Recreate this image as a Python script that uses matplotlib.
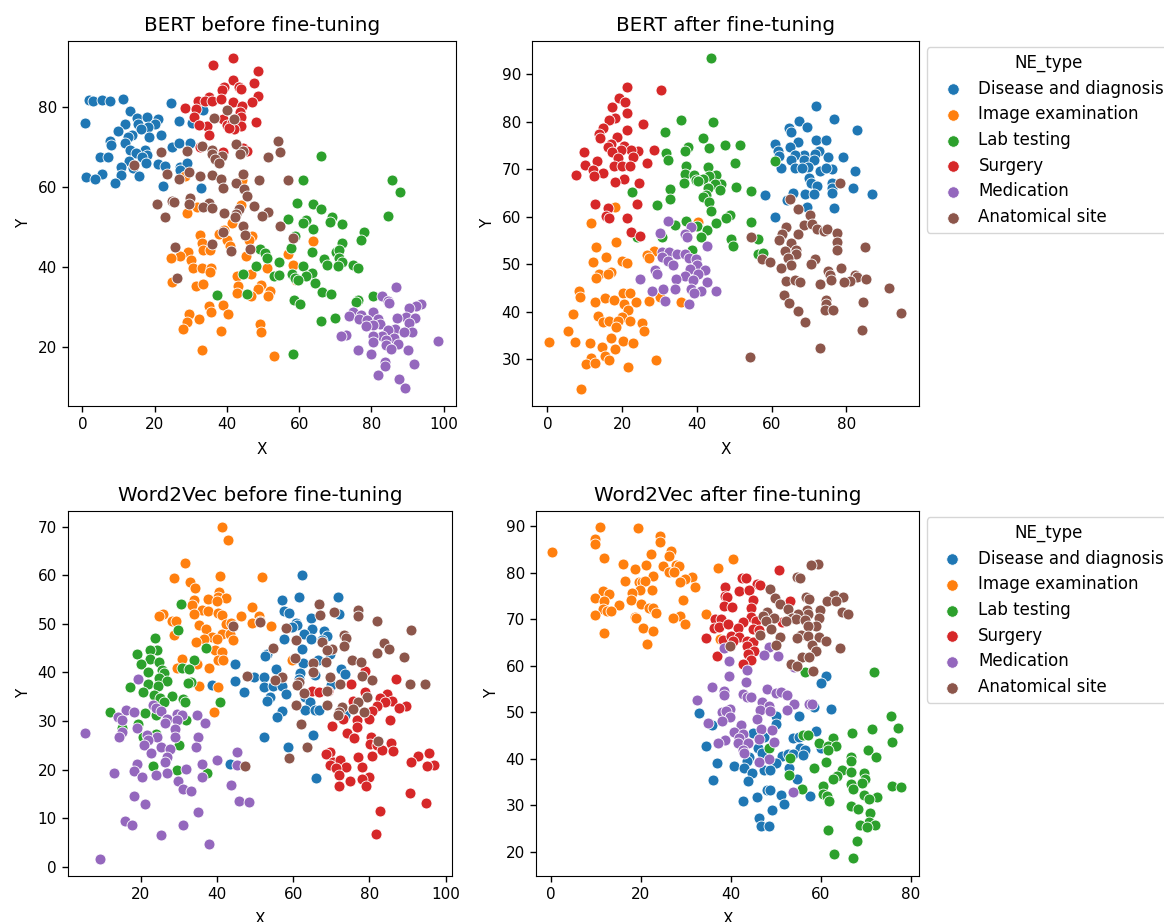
import matplotlib
matplotlib.use('Agg')
import matplotlib.pyplot as plt
import numpy as np

ne_types = ['Disease and diagnosis', 'Image examination', 'Lab testing', 'Surgery', 'Medication', 'Anatomical site']
colors = ['tab:blue', 'tab:orange', 'tab:green', 'tab:red', 'tab:purple', 'tab:brown']

# BERT before fine-tuning
bb_disease = [(0.6,76.2),(1.9,81.8),(3,81.7),(5.5,81.8),(7.6,81.5),(11.3,82),(13.1,79.2),(24.5,81),(26.6,76.7),(30.4,76),(33.3,79.3),(15.2,77.3),(18,77.7),(20.8,77.1),(20,75.8),(11.9,75.8),(15.5,75.8),(18.2,75),(16.1,74.5),(9.9,74),(13.6,73),(12.5,72.7),(18.4,72.7),(21.8,73),(7.6,71.5),(11.8,71),(8,70.5),(24.7,70.2),(26.6,71),(29.8,71.2),(17.3,69.3),(13.3,69.3),(14.8,68.7),(4.8,67.7),(7.1,67.7),(18,68.1),(16.4,67.7),(13,66.7),(17.6,66),(21,65.8),(22.9,65.3),(10.6,65),(13.9,64.8),(26.9,65),(28.9,66.2),(27,64.3),(5.3,63.3),(1.1,62.6),(3.5,62.1),(10.6,63.2),(15.7,62.8),(9,61),(22.4,60.4),(32.8,59.8)]
bb_image = [(28.4,62.8),(44.2,61.8),(28.9,53.6),(31.7,55.2),(44,55.6),(41.4,51),(39.3,49.3),(37.7,48.3),(32.4,48),(46.9,47.9),(40,46.8),(46.2,46.7),(33,46),(63.8,46.5),(33.3,44.3),(35.4,44.3),(40.9,45.2),(29.1,43.9),(26.9,42.8),(24.4,42.4),(30,41.7),(45.3,42.7),(57,43.2),(30.7,39.8),(33.2,39.7),(35.5,39.7),(51.1,39.9),(58.3,40.5),(35.2,38.9),(42.8,37.7),(46.7,38.3),(24.9,36.3),(31.4,35.3),(33.3,35.9),(43,35.2),(49.3,35.5),(59.2,36.7),(48.5,34.6),(52,34),(42.8,33.5),(46.7,32.7),(51.3,32.7),(34.9,30.4),(38.9,30.6),(35.6,28.9),(29.6,28.4),(40.3,28.3),(32.3,27.1),(28.9,26.2),(27.7,24.5),(38.4,24),(49.1,25.8),(49.3,23.8),(33.1,19.3),(53.1,17.7)]
bb_lab = [(65.9,67.8),(61,61.8),(85.6,61.8),(88,58.8),(59.3,56),(63.9,55.8),(65.9,54.6),(69,52.7),(56.9,52.1),(61.8,51.8),(61,51.2),(68.5,51.4),(71.9,50.9),(84.5,52.8),(63.8,49.6),(78,48.7),(58.9,47.9),(77,46.7),(71.9,46),(57.6,44.7),(63.6,43.9),(49.1,44.5),(50.4,43.5),(70.1,43.7),(71,44.3),(51.1,42.2),(66.9,42),(71,42.3),(54.5,41.4),(67.8,40.6),(71.8,41.3),(70.7,40.3),(48.1,40.4),(75,40.5),(76.4,39.8),(61,40.3),(63.6,38.5),(61.8,37.8),(57.9,38.2),(58.8,37.3),(53,37.9),(54.4,38.1),(44.4,38.3),(64.4,36),(59.7,36.7),(37.2,33.1),(45.6,33.3),(66.4,33.8),(68.9,33.2),(58.5,31.9),(60.1,30.7),(80.3,32.8),(76.4,31.7),(75.6,31.4),(69.8,27.4),(65.9,26.6),(58.4,18.4)]
bb_surgery = [(41.7,92.4),(36.1,90.5),(48.5,89),(41.7,86.8),(47.4,86),(39.1,85.2),(43.4,85.2),(38.6,84.3),(44,84.5),(48.5,82.8),(34.9,82.7),(31.9,81.7),(34,81.7),(35.8,81.7),(38.4,82),(41.7,81.3),(46.9,81.3),(28.5,79.8),(31.5,79.7),(44.2,80.3),(43.7,78.9),(31,77.7),(38.9,77),(43.9,77.7),(48.1,76.3),(40,75.6),(41.4,76),(34.4,75.3),(32.2,75.7),(43.9,75.3),(41.9,74.5),(34.9,73.2),(40.5,74.9),(32.6,70.2),(39,68.9),(44.4,69.8),(45.6,69.2)]
bb_medication = [(86.9,35.1),(82.9,32.7),(84.6,31.6),(84.9,31),(93.7,30.7),(92.3,30.4),(90.5,29.8),(75,28.9),(80.5,28.9),(73.8,27.8),(77.2,28.1),(89.5,27.5),(92,27.3),(87,27.2),(81.8,27),(76.6,27),(78.7,26.7),(90.5,26),(82.4,25.8),(80.3,25.6),(78.4,25.2),(86.6,24.5),(84.6,24.3),(91.1,23.9),(89,23.7),(72.9,23.1),(71.5,22.8),(83,22.8),(80.5,22.7),(86.3,22.3),(84,21.8),(98.3,21.6),(80.3,21.4),(87.4,20.8),(84,20.6),(85.4,19.5),(76.4,19.2),(90.2,19.2),(79.8,18.2),(83.8,16.2),(91.9,15.8),(83.8,15.2),(81.7,13),(87.7,12.1),(89.4,9.7)]
bb_anatomical = [(40,79.3),(41.9,77.2),(36.5,77.3),(54.1,71.6),(42.5,70.9),(33.2,70.3),(21.7,68.8),(28.9,69),(35.8,69.3),(44.4,69.2),(54.8,68.8),(35.9,68.3),(43.7,68.3),(38.6,67.8),(51.3,67.7),(36.8,67),(37.7,66.2),(14.4,65.7),(29.6,63.8),(23.3,63.3),(32.4,62.8),(35.8,63.2),(44.4,63.3),(26.6,62.1),(38.4,62),(49,61.8),(57,61.8),(42.5,61),(39,59.9),(44.8,59.5),(45.6,57.8),(29.8,57.4),(20.7,55.8),(24.7,56.6),(25.4,56.4),(29.5,55.8),(34.9,56),(33.3,55),(35.8,54.9),(47.4,55.4),(43.4,54.6),(42.6,53.3),(39.1,53.7),(51.3,53.8),(49.7,52.9),(22.9,52.7),(42.3,52.5),(54.8,50.4),(44.4,50.2),(38.9,48.7),(45.1,48.1),(58.3,47.3),(35.8,45.8),(25.6,45),(46.5,44.6),(41.2,44.1),(26.3,37.3)]

# BERT after fine-tuning
ba_disease = [(71.8,83.3),(76.7,80.5),(67.4,80.1),(69.4,79),(64.7,78.6),(65.3,77.8),(82.7,78.3),(67.1,75.8),(71.8,76.1),(74.5,76.1),(61,75.3),(64.9,74.8),(61.7,73.9),(68.7,73.1),(72.7,73.8),(71.7,73.2),(66.2,73.1),(62,72.8),(79.2,72.6),(75,72.5),(65.1,72),(68.7,72),(71.4,72),(66.2,70.3),(62.4,70.2),(69.6,70.4),(68,70.2),(76,70),(82.2,69.7),(72.9,69.6),(74.6,70.2),(69.9,68.2),(70.6,67.1),(72,66.5),(76,67.1),(81.8,66.1),(76,66),(86.7,64.9),(76,65.1),(65.7,65.1),(68.9,64.8),(71.4,64.9),(58.3,64.7),(64,63.5),(76.7,61.9),(69.4,62.1),(60.9,59.9)]
ba_image = [(18.1,62.1),(11.7,58.8),(40.4,59),(18.3,54.7),(12.9,53.6),(28.6,52.9),(26.7,51.9),(27.3,51.3),(15.7,51.6),(12.1,50.5),(19.9,50.7),(21.2,50.3),(13.9,47.9),(17.1,48.3),(16.3,47.9),(13,47.1),(8.5,44.4),(8.8,43.1),(15.5,43),(17.9,42.6),(12.7,42.1),(20.2,43.9),(22.1,44),(30.2,43.1),(27.3,42.3),(23.7,42.1),(20.6,41.6),(35.7,42.1),(21.5,40.5),(6.8,39.6),(13.5,39.2),(19.9,39),(14.8,37.9),(16.5,38),(19,38.1),(22.2,38),(25.4,37.7),(18.4,36.9),(5.4,35.9),(25.9,35.9),(16.9,34.6),(0.4,33.7),(7.5,33.7),(11.3,33.4),(20.2,33.8),(23,33.4),(14.7,32.6),(18,32.1),(15.5,30.7),(11.6,30.4),(16.6,29.9),(29,29.8),(10.4,29),(12.8,29.2),(21.7,28.5),(9,23.8)]
ba_lab = [(43.7,93.5),(35.8,80.4),(44.4,80),(31.4,77.9),(41.7,76.5),(47.6,75.1),(51.4,75.1),(37.7,74.6),(36.8,73.9),(43.2,74.5),(31.7,73.5),(32.2,72),(50.1,71.3),(60.9,71.8),(37.2,70.6),(43.1,70.5),(36.7,69),(39.3,68.7),(45.1,68.8),(43.3,68.5),(41.7,68),(39.7,67.8),(40.4,67.6),(36.6,67.1),(46.4,66.9),(44.8,66.9),(50.4,66.3),(43.1,66),(32.8,65.8),(46.3,65.6),(54.6,65.4),(22.6,65.2),(42.4,64.5),(41.7,64.2),(32.7,63.7),(43.3,63.1),(29.4,62.4),(43.8,61.3),(48.8,60.4),(47.9,59.7),(54.6,59),(37.2,59.1),(45.1,58.6),(34.2,58.3),(40,58),(42.8,57.3),(30.8,55.8),(24,55.7),(41,55.7),(49,55.3),(56.4,55.3),(49.7,53.9),(38.8,53),(56.4,52.2),(57.6,52.3)]
ba_surgery = [(21.4,87.3),(30.3,86.6),(19.3,85),(20.8,84.1),(17.3,83.2),(21.2,81.8),(18,80.9),(16.4,80.4),(25.7,79.5),(15,78.6),(21.4,78.2),(13.9,77.4),(14.1,76.5),(18.6,76.7),(17,75.3),(16.1,74.8),(20.4,75),(24.2,73.9),(22.4,74.1),(19.8,74.1),(17.4,73.7),(9.7,73.7),(28.6,74),(18.9,72.3),(23,72.5),(13.4,71.8),(10.2,71),(26.7,71.4),(17.9,70.6),(19.9,70.6),(22,70.7),(12.2,69.9),(14.8,69.2),(7.7,68.7),(12.4,68.5),(20.6,68),(18.2,67.3),(24.4,67.1),(24,62.8),(12.8,62.7),(16.2,61.9),(15.8,60.2),(16.6,59.8),(21.2,59.7),(22.4,56.9),(24.8,56)]
ba_medication = [(32.3,59.1),(30,56.5),(38.4,57.9),(36.8,56.4),(37.4,55.7),(42.8,53.9),(30.8,52.6),(32.6,52.5),(34.7,52.2),(36.8,52.2),(30.8,51.6),(38,51.3),(39.8,51.1),(32.4,50.8),(33.7,49.9),(39.9,49.9),(28.8,48.8),(38.2,49),(42.3,48.8),(29.4,47.9),(40.4,48),(36.7,47.6),(34.5,47),(24.7,46.9),(39,46.7),(42.7,46.3),(38.3,44.9),(31,44.9),(34.1,44.9),(27.9,44.5),(41,44.5),(45,44.3),(39.3,43.9),(31.4,42.3),(37.8,41.7)]
ba_anatomical = [(78.2,67.2),(65,63.7),(67.1,61.7),(70.2,60.4),(63.9,57.8),(68.7,58.3),(70.8,58.5),(72,57.4),(73.9,57.1),(74.9,57.4),(77.6,56.7),(62.8,56.4),(67.1,56.4),(54.5,55.8),(62,55.1),(77.6,54.8),(65.3,54.4),(84.9,53.6),(77.6,53),(63.5,52.9),(66.4,53),(66.4,52.2),(64.4,51.3),(57.3,51.1),(59.5,50.4),(71.7,51.2),(70.5,50.1),(65.3,49.9),(62.5,49.3),(78.6,49.2),(75.1,48.7),(75.6,47.8),(82.4,47.8),(82.7,47.3),(80.9,46.6),(63.7,46.6),(66.2,46.7),(67.5,46.3),(75.8,46.7),(79.4,46.3),(85.1,47),(72.9,45.9),(91.3,45.1),(63.3,43.5),(64.5,41.8),(74.6,42.4),(74.4,41.6),(84.4,42.1),(74.2,40.5),(76.4,40.5),(67.1,40.2),(94.5,39.8),(69,37.9),(84.2,36.2),(72.9,32.4),(54.3,30.5)]

# Word2Vec before fine-tuning
wb_disease = [(62.3,60),(61.6,55.6),(71.7,55.5),(57.2,54.9),(57.6,52.6),(58.9,52.2),(72.1,52.1),(64.6,51.1),(60.8,50.1),(61.1,49.7),(59.8,49.3),(65,49),(68,48.6),(62.9,47.9),(68.8,47.4),(64.6,46.9),(57.6,46.8),(67.5,46.6),(62.2,44.9),(53.2,43.8),(52.6,43.3),(69.7,43.7),(66.6,42.6),(62.7,42),(44.7,41.7),(55.5,40.7),(72.6,40.6),(73.6,39.7),(61.8,39.9),(49.7,39.1),(52.4,39.1),(65.8,39.4),(44.7,38.2),(61.6,38.7),(38.8,37.4),(52.4,37),(54.8,37.1),(57.2,37.1),(69.9,37.3),(47.2,36),(58.1,35.5),(53.9,34.9),(63.1,34.9),(53.2,34.1),(64.4,34),(63.1,32.3),(65.7,32.2),(66.9,32.2),(57.2,32),(55.7,30.8),(73.6,31.3),(52.3,26.8),(65.3,27.2),(58.6,24.6),(43.4,21.1),(65.9,18.2)]
wb_image = [(41.4,69.9),(43,67.3),(31.6,62.5),(28.7,59.5),(40.8,59.8),(51.9,59.6),(32.9,58.6),(34.2,57.3),(40.5,56.5),(40.2,55.5),(42.3,55.3),(34,54.9),(37.7,55),(33.5,53.8),(40,54.7),(36,52.9),(37.7,52.6),(49.3,53.4),(34,52.1),(25.9,52.1),(24.8,51.5),(40.2,52.2),(41.4,51.9),(46.2,51.5),(51,51.6),(28.2,50.6),(29.3,50.5),(49.3,50.1),(51.3,50.5),(54.1,49.6),(35.3,49.7),(37,49),(42.5,50),(43.7,50.1),(28.7,47.6),(41.4,47.9),(43.4,47.8),(38.8,47.3),(36.6,46.8),(34.5,46.3),(39.9,46.8),(44.1,46.7),(39.5,44.5),(41.2,44.2),(30.9,42.7),(34.8,41.8),(40.2,42.5),(41.7,42.5),(59.8,42.5),(29.6,40.8),(37.9,40.8),(35.2,37.2),(40.2,37),(39.1,31.9)]
wb_lab = [(30.5,54.1),(29.8,48.8),(23.7,47),(37,45),(24.3,44.7),(22.5,44.5),(19.1,43.7),(22.4,42.7),(34,42.6),(20.1,41.7),(24.7,42.1),(30.9,40.9),(32.7,40.6),(25.6,40.4),(21.8,40.1),(26.2,39.9),(24.7,38.9),(26.9,38.2),(33.1,38.1),(32.4,37.9),(22,37.6),(24.5,37.1),(17.2,37),(20.6,36),(23.5,35.3),(28.1,35.1),(25,34.8),(31.1,34.6),(31.6,33.8),(26.1,34),(40.7,33.9),(11.8,31.9),(21,31.6),(23.9,31.2),(32,30.3),(19.3,29.3),(15.1,28.6),(23.9,27.4),(20.6,26.7),(30.1,25),(23.2,20.8),(29.6,20),(37.3,19.3)]
wb_surgery = [(78.9,40.2),(87,38.6),(75.2,37.6),(65,36.1),(66.9,36),(69.1,36.1),(78.9,35.9),(84.6,35.5),(82.8,34.8),(75.8,34.2),(86,34.1),(84.2,33.8),(82,33.1),(89.6,33),(87.9,32.6),(80.6,32.1),(79.9,30.5),(76.7,30.1),(73.2,30.5),(85.5,30.3),(70.3,29),(76.7,28.8),(74.2,27.6),(76,26.4),(80.4,26.7),(80.2,25.3),(85.8,25.5),(82,25),(83.3,24),(86.2,23.8),(69.7,23.6),(68.6,23.3),(95.7,23.4),(92.9,22.7),(80.6,22.7),(77.1,22.5),(70.4,21.6),(72.3,21.9),(90.9,21.6),(69.7,20.9),(97.1,21),(95.1,20.8),(73.8,20.5),(71.3,20.3),(78,20.5),(72.1,18.8),(79.9,18.4),(78,18),(74.8,17.6),(72.1,16.6),(79.1,16.6),(90.6,15.2),(94.8,13.2),(82.9,11.4),(81.7,6.8)]
wb_medication = [(19.3,38.6),(16.2,32.3),(18.2,31.8),(23.1,33.3),(24.1,32.7),(25.4,32),(14.1,30.8),(15.2,30.3),(29.4,31.5),(30.8,31.3),(34.8,31.2),(26.9,30.5),(29.4,30.3),(36.9,29.6),(26.3,29.5),(19.1,28.5),(28.9,28.3),(5.3,27.6),(15.2,27.7),(21.7,27.1),(28.9,26.8),(35,26.8),(14.3,26.6),(24.3,26.7),(21.9,26),(20.8,25),(25.3,24.7),(34.5,24.6),(27.8,24.3),(45.2,23.7),(22.7,23.4),(27,22.5),(40.1,22),(26.4,21.6),(36.1,21.2),(19.1,21.1),(45.2,21),(31.8,20.1),(18.3,19.7),(12.9,19.3),(26.9,19.3),(24,18.8),(20.4,18.4),(36.1,18.4),(29.8,17.6),(43.6,16.9),(31,16),(33.1,15.5),(18.2,14.5),(21.1,12.9),(45.9,13.6),(48.4,13.4),(34.9,11.2),(15.9,9.5),(17.7,8.6),(31,8.5),(25.4,6.5),(37.9,4.7),(9.4,1.6)]
wb_anatomical = [(66.7,54),(70.7,52.5),(76.9,52.9),(67.1,51.8),(77.1,51.5),(51.3,50.3),(82,50.5),(44.2,49.5),(58,49.2),(90.9,48.8),(73.4,47.7),(73.8,47.1),(60.7,46.7),(67.5,46.2),(73.4,45.4),(83.9,46.1),(85.2,44.9),(54.8,45),(70.2,44.9),(68.8,44.5),(82,43.9),(89.2,43.2),(60.6,42.9),(75.4,42.5),(77.8,42.1),(65.3,42),(68.5,42.1),(65.3,40),(78,39.2),(47.9,39.2),(69.7,39.1),(57.2,39),(55.3,38.4),(80.6,38.4),(61.6,38),(61.1,37.5),(72.3,37.7),(90.7,37.7),(94.5,37.7),(69,36.2),(62.8,35.8),(79.3,34.9),(76.9,33.8),(60.7,33.2),(69,33.2),(72.8,32.9),(75.7,32.4),(78.6,31.9),(72.1,31.8),(71.9,31.2),(62,29.3),(82.2,25.9),(63.6,24.6),(59,22.4),(47.3,20.8)]

# Word2Vec after fine-tuning
wa_disease = [(61.2,57.8),(60.1,56.4),(62.3,50.8),(58.5,51.1),(33,49.8),(50,49.2),(55.2,49.3),(50,47.5),(35.7,47.3),(59,45.9),(44.9,45.6),(47.3,44.6),(53.7,44.5),(55.2,44.8),(60.1,42.4),(34.4,42.7),(46.1,42.3),(55.4,42.4),(56.5,41.9),(47,41.2),(51.3,40.7),(52.8,41),(53.9,41),(56.1,40.9),(44.1,40.3),(43.6,39.5),(36.9,39.1),(50,39),(40.7,38.5),(43,38),(53,38),(47.3,37.6),(48.7,37.6),(44.8,36.9),(54.6,35.7),(43.9,35.2),(36,35.5),(48,33.4),(48.8,33.4),(51.1,32.3),(57.6,31.9),(45.9,31.7),(42.8,30.9),(51.8,30.3),(49.2,28.9),(46.2,27.3),(46.7,25.6),(48.4,25.5)]
wa_image = [(11,89.9),(19.4,89.6),(24.2,87.9),(24.3,86.7),(9.8,87.2),(9.8,86.3),(0.3,84.4),(26.7,84.6),(26.3,83.6),(22.3,84),(11.9,83.1),(40.4,83),(16.1,81.8),(21.2,81.7),(25,81.5),(27.7,81.7),(28.4,81.4),(18.6,80.8),(37.1,81.1),(26.2,80.2),(27.3,80.2),(22.8,79.4),(31.4,79.1),(29.7,78.7),(28.6,78),(16.5,78.3),(19.5,78),(20.3,78),(21,78.3),(32.1,77),(22.4,76.3),(11.5,76),(12.9,75.4),(19.9,76.3),(18,75.7),(9.9,74.6),(11.8,74),(17.9,74.1),(29.3,74.2),(20,73.4),(15.1,73),(21.9,72.5),(22.6,72.5),(11.5,72.3),(12.5,71.9),(13.4,71.7),(23.4,71.3),(9.8,71),(34.5,71.2),(28.8,70.7),(27.1,70.2),(18.6,70.5),(19,70.2),(29.8,69),(20.4,68.2),(22.6,67.5),(11.8,67),(21.3,64.7),(37.6,65.8)]
wa_lab = [(71.8,58.6),(56.4,58.6),(75.5,49.2),(77.1,46.7),(71.4,46.5),(66.9,45.5),(56.1,45.2),(57.1,45.1),(62.8,44.4),(59.5,43.5),(75.7,43.7),(61.5,42.8),(63.4,42.7),(48.4,42.3),(61.5,41.8),(70.5,41.8),(72.2,40.5),(66.7,40.5),(53.2,40.1),(66.6,39.5),(61.1,39.3),(58.4,38),(64.8,37.6),(66.7,37.2),(69.5,36.9),(53,36.5),(63.6,36.2),(62.6,35.6),(69.7,35.6),(69.1,34.7),(66.6,34.5),(60.5,34.2),(75.9,34.2),(77.8,33.9),(67.2,33.5),(55.7,33.5),(60.4,32.4),(61.3,31.9),(69.5,32.2),(72.4,31.8),(70.6,31.3),(61.7,31),(66.8,29.9),(68.3,29.2),(70.9,28.3),(70.6,26.5),(68.6,25.8),(72,25.8),(70.2,25.4),(61.5,24.6),(68,22.3),(62.9,19.6),(67.2,18.6)]
wa_surgery = [(50.7,80.6),(42.5,78.8),(43.3,78.8),(45.9,77.7),(46.5,77.4),(38.8,77),(41.9,76.1),(44.1,76.3),(38.6,75.1),(39.2,74.7),(45,74.1),(53.2,73.9),(38.5,72.8),(40.2,72.7),(44.5,72.5),(44.4,70.5),(36.5,70),(37.9,70.1),(42.6,69.5),(45.5,69.7),(51.3,69.5),(36.2,68.1),(37.3,68.3),(39.3,68.9),(41.5,68.2),(45,67.9),(46.2,67.8),(34.4,65.9),(38.2,65.6),(40.1,66.4),(41.7,66.1),(40.4,65.4),(43.6,65.4),(45,65.2),(43.6,64.3),(45.1,63.2),(37,62.2),(43.9,62.5),(44.5,61.2),(42.6,60.4)]
wa_medication = [(38.5,63.8),(48.4,64),(47.3,62.3),(50.4,62.2),(39.5,61),(43.6,59.2),(39.6,57.9),(54,59.8),(43.3,56.5),(35.7,55.4),(38.5,54.6),(48.1,55.1),(50,54.2),(51.2,54.3),(52.4,53.8),(42.8,53.9),(38.4,53.8),(43.6,53.2),(44.4,53.4),(32.5,52.7),(47,52.3),(54,51.8),(57.4,51.8),(58,51.7),(48.4,51.3),(46.5,50.5),(48.8,50.3),(52.4,50.4),(39.9,50.8),(38.1,50.1),(39,50.3),(39.7,48.9),(45.8,48.5),(35,47.8),(38,48.1),(42.2,47.3),(46.7,46.5),(49.1,46.2),(40.6,45.8),(42.7,45.3),(41.7,44.5),(46.2,44.3),(38.8,44),(37.1,43.3),(41.5,43.5),(43.9,43.3),(49.5,43.7),(42.7,41.9),(43,41.2),(48.4,39.9),(46.3,39.4),(53.8,32.8)]
wa_anatomical = [(59.3,82),(57.8,81.6),(54.7,79),(55.4,78.8),(48.6,76.5),(62.9,75.3),(64.9,74.9),(56.7,74.8),(57.4,74.4),(49.9,74.5),(61.3,74),(63.3,74),(50.9,73.2),(52.6,72.2),(59.8,72),(57,72),(64.8,71.6),(66.1,71.2),(48.1,71.6),(57.1,71.2),(54.9,71.1),(47.2,70.7),(49.5,70.2),(53.5,70.3),(59.6,70.2),(54.4,70),(56.4,69.8),(52.3,69.6),(47.9,69.7),(58.9,68.6),(57.2,68.5),(49,68),(51,66.3),(46.5,66.7),(55.5,66.6),(54.7,65.9),(57.2,66.4),(59.6,66.2),(61.2,65.3),(50,64.5),(39.9,64.2),(58,64.4),(64.3,63.9),(59,63.2),(55.8,61.8),(57.4,61.8),(53.3,60.5),(54.7,59.9),(58.3,58.8)]

W, H = 1164, 922
fig = plt.figure(figsize=(W/100, H/100), dpi=100)

def panel(box, title, groups, xlim, ylim, xticks, yticks, legend=False):
    left, top, right, bottom = box
    ax = fig.add_axes([left/W, 1-bottom/H, (right-left)/W, (bottom-top)/H])
    for pts, name, c in zip(groups, ne_types, colors):
        pts = np.array(pts)
        ax.scatter(pts[:, 0], pts[:, 1], s=62, c=c, edgecolors='white', linewidths=0.6, label=name)
    ax.set_xlim(xlim)
    ax.set_ylim(ylim)
    ax.set_xticks(xticks)
    ax.set_yticks(yticks)
    ax.tick_params(labelsize=11, length=4.5, width=1)
    ax.set_xlabel('X', fontsize=11, labelpad=7)
    ax.set_ylabel('Y', fontsize=11, labelpad=5)
    ax.set_title(title, fontsize=14.3, pad=7)
    if legend:
        ax.legend(title='NE_type', loc='upper left', bbox_to_anchor=(1.02, 0.983), borderaxespad=0,
                  fontsize=12, title_fontsize=12, scatterpoints=1, labelspacing=0.46,
                  handlelength=2.3, handletextpad=0.4, markerscale=1.05)
    return ax

panel((68, 41, 456, 406), 'BERT before fine-tuning',
      [bb_disease, bb_image, bb_lab, bb_surgery, bb_medication, bb_anatomical],
      (-4, 103.4), (5.3, 96.6), range(0, 101, 20), range(20, 81, 20))
panel((532, 41, 919, 406), 'BERT after fine-tuning',
      [ba_disease, ba_image, ba_lab, ba_surgery, ba_medication, ba_anatomical],
      (-4.1, 99.4), (20.2, 97), range(0, 81, 20), range(30, 91, 10), legend=True)
panel((68, 511, 452, 876), 'Word2Vec before fine-tuning',
      [wb_disease, wb_image, wb_lab, wb_surgery, wb_medication, wb_anatomical],
      (0.9, 101.7), (-1.9, 73.2), range(20, 101, 20), range(0, 71, 10))
panel((536, 511, 919, 876), 'Word2Vec after fine-tuning',
      [wa_disease, wa_image, wa_lab, wa_surgery, wa_medication, wa_anatomical],
      (-3.3, 81.8), (14.8, 93.3), range(0, 81, 20), range(20, 91, 10), legend=True)

fig.savefig('out.png', dpi=100)
